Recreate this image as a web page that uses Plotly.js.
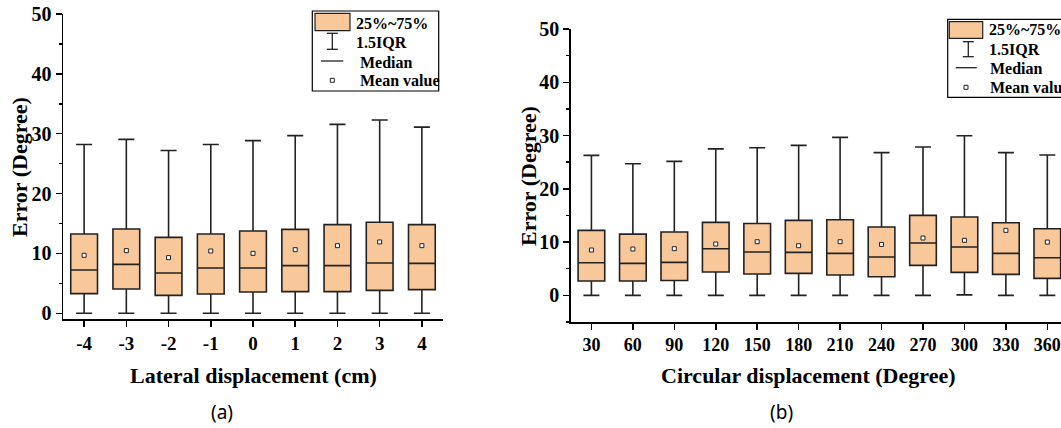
<!DOCTYPE html>
<html>
<head>
<meta charset="utf-8">
<script src="https://cdn.plot.ly/plotly-3.0.1.min.js"></script>
<style>html,body{margin:0;padding:0;background:#fff;}#chart{width:1061px;height:428px;}</style>
</head>
<body>
<div id="chart"></div>
<script>
// ---- Data: (a) lateral displacement ----
const latX = [-4, -3, -2, -1, 0, 1, 2, 3, 4];
const latLabels = ['-4', '-3', '-2', '-1', '0', '1', '2', '3', '4'];
const latQ1 = [3.29, 4.06, 3.0, 3.23, 3.56, 3.62, 3.62, 3.84, 3.95];
const latMedian = [7.24, 8.18, 6.74, 7.57, 7.57, 7.96, 7.96, 8.41, 8.35];
const latQ3 = [13.25, 14.09, 12.69, 13.25, 13.75, 14.03, 14.81, 15.2, 14.81];
const latLow = [0, 0, 0, 0, 0, 0, 0, 0, 0];
const latHigh = [28.2, 29.06, 27.2, 28.2, 28.84, 29.68, 31.57, 32.3, 31.1];
const latMean = [9.69, 10.47, 9.3, 10.41, 10.02, 10.63, 11.3, 11.92, 11.3];

// ---- Data: (b) circular displacement ----
const circX = [30, 60, 90, 120, 150, 180, 210, 240, 270, 300, 330, 360];
const circLabels = ['30', '60', '90', '120', '150', '180', '210', '240', '270', '300', '330', '360'];
const circQ1 = [2.69, 2.69, 2.8, 4.38, 4.0, 4.13, 3.82, 3.5, 5.63, 4.32, 3.94, 3.19];
const circMedian = [6.13, 6.0, 6.2, 8.76, 8.13, 8.07, 7.88, 7.2, 9.82, 9.07, 7.88, 7.07];
const circQ3 = [12.2, 11.5, 11.9, 13.7, 13.5, 14.08, 14.2, 12.83, 15.02, 14.7, 13.64, 12.5];
const circLow = [0, 0, 0, 0, 0, 0, 0, 0, 0, 0.1, 0, 0];
const circHigh = [26.28, 24.7, 25.16, 27.5, 27.7, 28.16, 29.66, 26.8, 27.85, 29.97, 26.8, 26.35];
const circMean = [8.51, 8.7, 8.76, 9.64, 10.07, 9.32, 10.07, 9.57, 10.76, 10.33, 12.2, 10.0];

const legendLabels = ['25%~75%', '1.5IQR', 'Median', 'Mean value'];

// ---- Style ----
const W = 1061, H = 428;
const FILL = '#F9C89A';
const EDGE = '#222222';
const SERIF = 'Liberation Serif, Times New Roman, serif';
const px = x => x / W;
const py = y => 1 - y / H;

const boxStyle = {
  type: 'box', boxpoints: false, whiskerwidth: 0.6,
  fillcolor: FILL, line: {color: EDGE, width: 1.6},
  hoverinfo: 'skip', showlegend: false
};
const meanStyle = {
  type: 'scatter', mode: 'markers', hoverinfo: 'skip', showlegend: false,
  marker: {symbol: 'square', size: 4, color: '#ffffff', line: {color: EDGE, width: 1}}
};

const traces = [
  Object.assign({}, boxStyle, {x: latX, q1: latQ1, median: latMedian, q3: latQ3,
    lowerfence: latLow, upperfence: latHigh, width: 0.634, xaxis: 'x', yaxis: 'y'}),
  Object.assign({}, meanStyle, {x: latX, y: latMean, xaxis: 'x', yaxis: 'y'}),
  Object.assign({}, boxStyle, {x: circX, q1: circQ1, median: circMedian, q3: circQ3,
    lowerfence: circLow, upperfence: circHigh, width: 19.3, xaxis: 'x2', yaxis: 'y2'}),
  Object.assign({}, meanStyle, {x: circX, y: circMean, xaxis: 'x2', yaxis: 'y2'})
];

const axisBase = {
  showline: true, linecolor: '#000', linewidth: 1.5, mirror: false,
  showgrid: false, zeroline: false, ticks: 'outside', ticklen: 6, tickwidth: 1.5,
  tickcolor: '#000', fixedrange: true
};
const yMinor = {dtick: 5, tick0: 0, ticks: 'outside', ticklen: 3, tickwidth: 1.5, tickcolor: '#000'};

const layout = {
  width: W, height: H, margin: {l: 0, r: 0, t: 0, b: 0},
  paper_bgcolor: '#fff', plot_bgcolor: 'rgba(0,0,0,0)', showlegend: false,
  xaxis: Object.assign({}, axisBase, {
    domain: [px(63), px(443)], range: [-4.5, 4.5], anchor: 'y',
    tickmode: 'array', tickvals: latX, ticktext: latLabels,
    tickfont: {family: SERIF, size: 19, color: '#000', weight: 'bold'}
  }),
  yaxis: Object.assign({}, axisBase, {
    domain: [py(319.3), py(14)], range: [-1, 50], anchor: 'x',
    tickmode: 'linear', tick0: 0, dtick: 10, minor: yMinor,
    tickfont: {family: SERIF, size: 20, color: '#000', weight: 'bold'}
  }),
  xaxis2: Object.assign({}, axisBase, {
    domain: [px(570.7), 1], range: [15, 369.9], anchor: 'y2',
    tickmode: 'array', tickvals: circX, ticktext: circLabels,
    tickfont: {family: SERIF, size: 18, color: '#000', weight: 'bold'}
  }),
  yaxis2: Object.assign({}, axisBase, {
    domain: [py(322), py(29)], range: [-5, 50], anchor: 'x2',
    tickmode: 'linear', tick0: 0, dtick: 10, minor: yMinor,
    tickfont: {family: SERIF, size: 20, color: '#000', weight: 'bold'}
  }),
  shapes: [],
  annotations: []
};

function txt(text, x, y, size, opts) {
  return Object.assign({
    text: text, x: px(x), y: py(y), xref: 'paper', yref: 'paper',
    xanchor: 'center', yanchor: 'middle', showarrow: false,
    font: {family: SERIF, size: size, color: '#000'}
  }, opts || {});
}

// Axis titles and panel labels
layout.annotations.push(txt('<b>Lateral displacement (cm)</b>', 253, 375, 22));
layout.annotations.push(txt('<b>Circular displacement (Degree)</b>', 808, 375, 22));
layout.annotations.push(txt('<b>Error (Degree)</b>', 19, 167, 22, {textangle: -90}));
layout.annotations.push(txt('<b>Error (Degree)</b>', 528, 176, 22, {textangle: -90}));
const SANS = {family: 'Noto Sans, DejaVu Sans, sans-serif', size: 19, color: '#000'};
layout.annotations.push(txt('(a)', 222, 412, 19, {font: SANS}));
layout.annotations.push(txt('(b)', 781, 412, 19, {font: SANS}));

// Custom legend builder
function addLegend(L) {
  const s = layout.shapes, a = layout.annotations;
  const P = (o) => Object.assign({xref: 'paper', yref: 'paper'}, o);
  s.push(P({type: 'rect', x0: px(L.left), x1: px(L.right), y0: py(L.top), y1: py(L.bottom),
    line: {color: '#000', width: 1.2}, fillcolor: 'rgba(255,255,255,0)'}));
  s.push(P({type: 'rect', x0: px(L.sw[0]), x1: px(L.sw[1]), y0: py(L.sw[2]), y1: py(L.sw[3]),
    line: {color: EDGE, width: 1.2}, fillcolor: FILL}));
  const ix = L.iq[0], iy0 = L.iq[1], iy1 = L.iq[2], cw = 5.5;
  s.push(P({type: 'line', x0: px(ix), x1: px(ix), y0: py(iy0), y1: py(iy1), line: {color: EDGE, width: 1.3}}));
  s.push(P({type: 'line', x0: px(ix - cw), x1: px(ix + cw), y0: py(iy0), y1: py(iy0), line: {color: EDGE, width: 1.3}}));
  s.push(P({type: 'line', x0: px(ix - cw), x1: px(ix + cw), y0: py(iy1), y1: py(iy1), line: {color: EDGE, width: 1.3}}));
  s.push(P({type: 'line', x0: px(L.med[0]), x1: px(L.med[1]), y0: py(L.med[2]), y1: py(L.med[2]), line: {color: EDGE, width: 1.3}}));
  s.push(P({type: 'rect', x0: px(L.mean[0] - 2), x1: px(L.mean[0] + 2), y0: py(L.mean[1] - 2), y1: py(L.mean[1] + 2),
    line: {color: EDGE, width: 1}, fillcolor: '#fff'}));
  L.text.forEach((t, i) => a.push(txt('<b>' + legendLabels[i] + '</b>', t[0], t[1], 16, {xanchor: 'left'})));
}

addLegend({left: 312.3, right: 438.7, top: 11, bottom: 91,
  sw: [315, 350, 13.3, 30.7], iq: [332.3, 33.3, 49.3], med: [321, 343.3, 61], mean: [332.3, 80.3],
  text: [[354, 23.3], [354.3, 42.3], [358.3, 62.3], [358.3, 81]]});
addLegend({left: 947.7, right: 1080, top: 19.3, bottom: 97.3,
  sw: [949.3, 982.7, 21.7, 38.3], iq: [968.3, 41.7, 56.7], med: [955.7, 976.7, 67.7], mean: [966, 87.3],
  text: [[986.7, 30], [986.7, 49.3], [987.7, 68.3], [987.7, 87.3]]});

Plotly.newPlot('chart', traces, layout, {displayModeBar: false, staticPlot: true});
</script>
</body>
</html>
